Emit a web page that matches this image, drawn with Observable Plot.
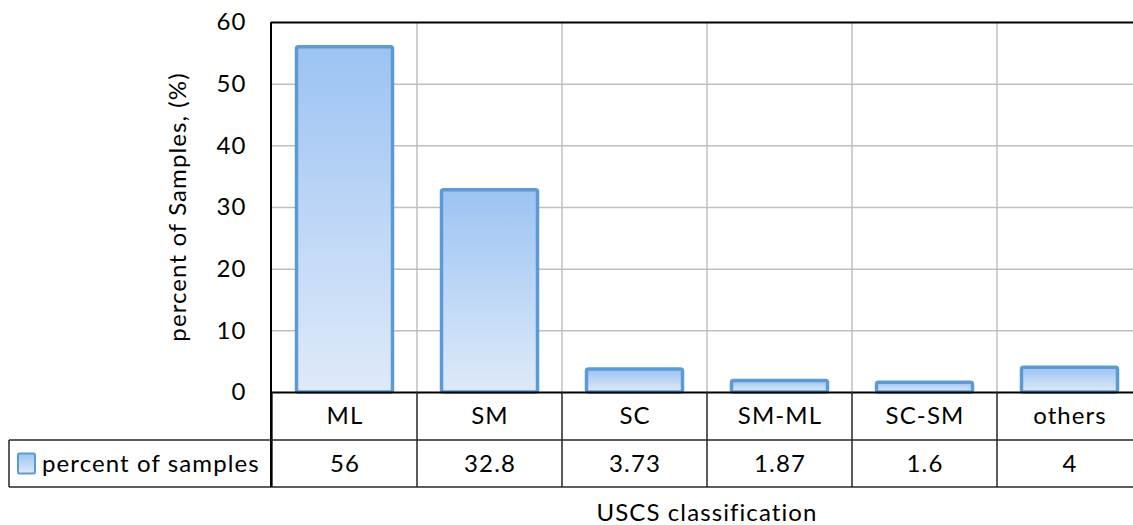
<!DOCTYPE html>
<html>
<head>
<meta charset="utf-8">
<script src="https://cdn.jsdelivr.net/npm/d3@7"></script>
<script src="https://cdn.jsdelivr.net/npm/@observablehq/plot@0.6"></script>
<style>
  html, body { margin: 0; padding: 0; background: #fff; overflow: hidden; }
  #chart { width: 1133px; height: 525px; overflow: hidden; }
  #chart svg { max-width: none !important; }
  #chart svg text { letter-spacing: 1.1px; }
</style>
</head>
<body>
<div id="chart"></div>
<script>
const categories = ["ML", "SM", "SC", "SM-ML", "SC-SM", "others"];
const values = [56, 32.8, 3.73, 1.87, 1.6, 4];
const valueLabels = ["56", "32.8", "3.73", "1.87", "1.6", "4"];
const seriesName = "percent of samples";
const yTitle = "percent of Samples, (%)";
const xTitle = "USCS classification";
const gridValues = [10, 20, 30, 40, 50];

const data = categories.map((c, i) => ({cat: c, val: values[i], label: valueLabels[i]}));

const FONT = "Lato, 'Open Sans', sans-serif";
const FS = 24;
const BLUE = "#5b9bd5";

function decor(kind) {
  return function (index, scales, vals, dims) {
    const x = scales.x;
    const {width, height, marginLeft, marginRight, marginTop, marginBottom} = dims;
    const yZero = height - marginBottom;
    const right = width - marginRight;
    const row1 = yZero + 48;
    const row2 = row1 + 47;
    const legendLeft = 9;
    const g = d3.create("svg:g");
    if (kind === "back") {
      const defs = g.append("defs");
      const grad = defs.append("linearGradient").attr("id", "barGrad")
        .attr("x1", 0).attr("y1", 0).attr("x2", 0).attr("y2", 1);
      grad.append("stop").attr("offset", "0%").attr("stop-color", "#9cc3f3");
      grad.append("stop").attr("offset", "100%").attr("stop-color", "#dfeaf9");
      categories.slice(1).forEach(c => {
        g.append("line").attr("x1", x(c)).attr("x2", x(c))
          .attr("y1", marginTop).attr("y2", yZero)
          .attr("stroke", "#bfbfbf").attr("stroke-width", 1.5);
      });
      g.append("line").attr("x1", right).attr("x2", right)
        .attr("y1", marginTop).attr("y2", yZero)
        .attr("stroke", "#bfbfbf").attr("stroke-width", 1.5);
    } else {
      categories.forEach(c => {
        g.append("line").attr("x1", x(c)).attr("x2", x(c))
          .attr("y1", yZero).attr("y2", row2)
          .attr("stroke", "#262626").attr("stroke-width", 1.5);
      });
      g.append("line").attr("x1", right).attr("x2", right)
        .attr("y1", yZero).attr("y2", row2)
        .attr("stroke", "#262626").attr("stroke-width", 1.5);
      [row1, row2].forEach(yy => {
        g.append("line").attr("x1", legendLeft).attr("x2", right)
          .attr("y1", yy).attr("y2", yy)
          .attr("stroke", "#262626").attr("stroke-width", 1.5);
      });
      g.append("line").attr("x1", legendLeft).attr("x2", legendLeft)
        .attr("y1", row1).attr("y2", row2)
        .attr("stroke", "#262626").attr("stroke-width", 1.5);
      g.append("line").attr("x1", marginLeft).attr("x2", marginLeft)
        .attr("y1", marginTop).attr("y2", row2)
        .attr("stroke", "#000").attr("stroke-width", 2);
      const cy = (row1 + row2) / 2;
      g.append("rect").attr("x", legendLeft + 9).attr("y", cy - 10)
        .attr("width", 17).attr("height", 20)
        .attr("fill", "url(#barGrad)").attr("stroke", BLUE).attr("stroke-width", 2).attr("rx", 1.5);
      g.append("text").attr("x", legendLeft + 33).attr("y", cy)
        .attr("dy", "0.35em").attr("fill", "#000")
        .attr("text-anchor", "start")
        .attr("font-family", FONT).attr("font-size", FS)
        .text(seriesName);
      g.append("text")
        .attr("transform", `translate(${marginLeft - 93},${(marginTop + yZero) / 2}) rotate(-90)`)
        .attr("dy", "0.35em").attr("fill", "#000")
        .attr("text-anchor", "middle")
        .attr("font-family", FONT).attr("font-size", FS)
        .text(yTitle);
    }
    return g.node();
  };
}

const chart = Plot.plot({
  width: 1142,
  height: 525,
  marginLeft: 271,
  marginRight: 0,
  marginTop: 22,
  marginBottom: 133,
  style: {fontFamily: FONT, fontSize: FS + "px", color: "#000", background: "#fff", overflow: "visible", maxWidth: "none"},
  x: {domain: categories, padding: 0, axis: null},
  y: {domain: [0, 60], ticks: 6, tickSize: 0, tickPadding: 25, label: null},
  marks: [
    decor("back"),
    Plot.ruleY(gridValues, {stroke: "#bfbfbf", strokeWidth: 1.5, strokeOpacity: 1}),
    Plot.barY(data, {x: "cat", y: "val", fill: "url(#barGrad)", stroke: BLUE, strokeWidth: 3.5, insetLeft: 24.5, insetRight: 24.5, rx: 2}),
    Plot.ruleY([0], {stroke: "#000", strokeWidth: 2}),
    Plot.ruleY([60], {stroke: "#000", strokeWidth: 2}),
    decor("table"),
    Plot.text(data, {x: "cat", text: "cat", frameAnchor: "bottom", lineAnchor: "middle", dy: 24, fill: "#000", fontSize: FS}),
    Plot.text(data, {x: "cat", text: "label", frameAnchor: "bottom", lineAnchor: "middle", dy: 72, fill: "#000", fontSize: FS}),
    Plot.text([xTitle], {frameAnchor: "bottom", lineAnchor: "middle", dy: 121, fill: "#000", fontSize: FS})
  ]
});

document.getElementById("chart").appendChild(chart);
</script>
</body>
</html>
